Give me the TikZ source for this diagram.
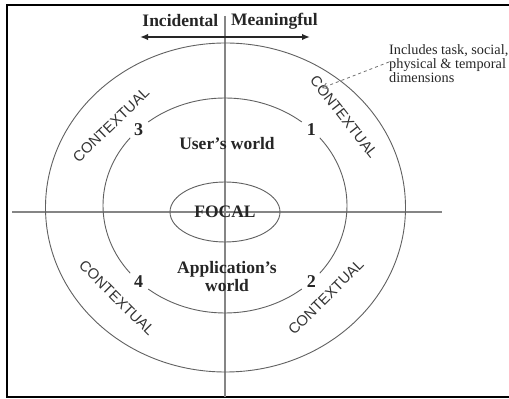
\documentclass[tikz,border=0pt]{standalone}
\usepackage{fontspec}
\setmainfont{Liberation Serif}
\newfontfamily\arialf{Liberation Sans}
\usetikzlibrary{arrows.meta,shapes.geometric}
\begin{document}
\begin{tikzpicture}[x=1pt,y=1pt,
  ring/.style={draw=black!62, line width=0.9pt},
  axisline/.style={draw=black!48, line width=1.4pt},
  boldtxt/.style={font=\fontsize{17.5}{19}\selectfont\bfseries, text=black!85, inner sep=0pt},
  ctx/.style={font=\arialf\fontsize{14.8}{16}\selectfont, text=black!80, inner sep=0pt},
  numtxt/.style={font=\fontsize{18}{19}\selectfont\bfseries, text=black!85, inner sep=0pt},
  notetxt/.style={font=\fontsize{14.3}{14}\selectfont, text=black!85, align=left, inner sep=0pt},
  bigarrow/.style={{Latex[length=8pt,width=6.5pt]}-{Latex[length=8pt,width=6.5pt]}, line width=1.7pt, draw=black!85},
  notearrow/.style={-{Straight Barb[length=5pt,width=6pt]}, dashed, draw=black!55, line width=0.8pt},
]
\useasboundingbox (0,0) rectangle (509,399);
\fill[white] (0,0) rectangle (509,399);
% frame (open at the right)
\draw[line width=2.5pt] (512,394) -- (7,394) -- (7,2) -- (512,2);

% axes
\coordinate (vtop) at (225,383);
\coordinate (vbot) at (225,2);
\coordinate (hleft) at (12,187);
\coordinate (hright) at (442,187);
\draw[axisline] (vtop) -- (vbot);
\draw[axisline] (hleft) -- (hright);

% outer ellipse
\draw[ring] (225.5,191.5) ellipse [x radius=180, y radius=164.5];

% inner ellipse with gaps for the numbers
\begin{scope}[shift={(225,193.5)}]
  \draw[ring] (51:122 and 107.5) arc[start angle=51, end angle=129, x radius=122, y radius=107.5];
  \draw[ring] (141:122 and 107.5) arc[start angle=141, end angle=219, x radius=122, y radius=107.5];
  \draw[ring] (231:122 and 107.5) arc[start angle=231, end angle=309, x radius=122, y radius=107.5];
  \draw[ring] (321:122 and 107.5) arc[start angle=321, end angle=399, x radius=122, y radius=107.5];
  \node[numtxt] (n1) at (45:122 and 107.5) {1};
  \node[numtxt] (n3) at (135:122 and 107.5) {3};
  \node[numtxt] (n4) at (225:122 and 107.5) {4};
  \node[numtxt] (n2) at (315:122 and 107.5) {2};
\end{scope}

% focal
\node[ellipse, ring, boldtxt, minimum width=110pt, minimum height=60pt] (focal) at (225,187) {FOCAL};

% worlds
\node[boldtxt] (user) at (227,255) {User's world};
\node[boldtxt, align=center] (app) at (227,122) {Application's\\[-1pt]world};

% contextual labels
\node[ctx, rotate=44] (cul) at (111,274) {CONTEXTUAL};
\node[ctx, rotate=-52] (cur) at (344,282) {CONTEXTUAL};
\node[ctx, rotate=-45] (cll) at (117,101) {CONTEXTUAL};
\node[ctx, rotate=45] (clr) at (326,102) {CONTEXTUAL};

% incidental / meaningful
\node[boldtxt, anchor=east] (inc) at (218.5,378) {Incidental};
\node[boldtxt, anchor=west] (mea) at (231,378) {Meaningful};
\coordinate (al) at (140,362);
\coordinate (ar) at (310,362);
\draw[bigarrow] (al) -- (ar);

% note
\node[notetxt, anchor=north west] (note) at (389,355) {Includes task, social,\\physical \& temporal\\dimensions};
\coordinate (notehead) at (322,311);
\draw[notearrow] (note.west |- 0,337) -- (notehead);
\end{tikzpicture}
\end{document}
